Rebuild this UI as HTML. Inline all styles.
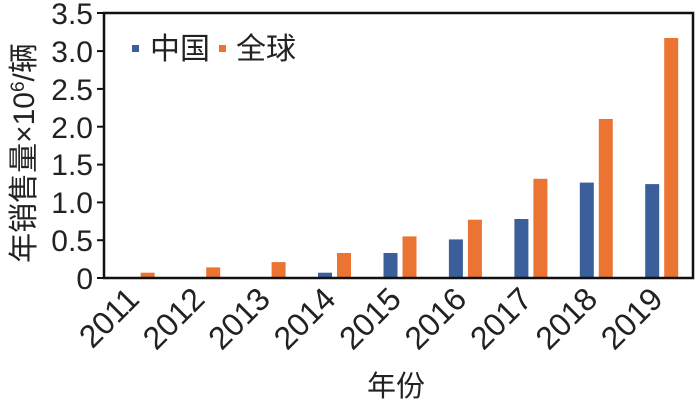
<!DOCTYPE html>
<html><head><meta charset="utf-8"><style>
body{margin:0;background:#fff;}
svg text{font-family:"Liberation Sans","Noto Sans CJK SC",sans-serif;fill:#222;}
</style></head><body>
<svg width="700" height="401" xmlns="http://www.w3.org/2000/svg">
<g fill="#3a5f9a">
<rect x="121.7" y="277.2" width="14" height="0.8"/>
<rect x="187.2" y="277.2" width="14" height="0.8"/>
<rect x="252.6" y="277.2" width="14" height="0.8"/>
<rect x="318" y="272.7" width="14" height="5.3"/>
<rect x="383.5" y="253" width="14" height="25"/>
<rect x="448.9" y="239.4" width="14" height="38.6"/>
<rect x="514.4" y="219" width="14" height="59"/>
<rect x="579.8" y="182.6" width="14" height="95.4"/>
<rect x="645.2" y="184.1" width="14" height="93.9"/>
</g>
<g fill="#ec7432">
<rect x="140.7" y="272.7" width="14" height="5.3"/>
<rect x="206.2" y="267.4" width="14" height="10.6"/>
<rect x="271.6" y="262.1" width="14" height="15.9"/>
<rect x="337" y="253" width="14" height="25"/>
<rect x="402.5" y="236.4" width="14" height="41.6"/>
<rect x="467.9" y="219.7" width="14" height="58.3"/>
<rect x="533.4" y="178.8" width="14" height="99.2"/>
<rect x="598.8" y="119" width="14" height="159"/>
<rect x="664.2" y="38" width="14" height="240"/>
</g>
<rect x="104" y="13" width="589" height="265" fill="none" stroke="#111" stroke-width="2.5"/>
<g stroke="#111" stroke-width="2">
<line x1="97" y1="278" x2="104" y2="278"/><line x1="97" y1="240.2" x2="104" y2="240.2"/>
<line x1="97" y1="202.4" x2="104" y2="202.4"/><line x1="97" y1="164.6" x2="104" y2="164.6"/>
<line x1="97" y1="126.7" x2="104" y2="126.7"/><line x1="97" y1="88.9" x2="104" y2="88.9"/>
<line x1="97" y1="51.1" x2="104" y2="51.1"/><line x1="97" y1="13" x2="104" y2="13"/>
</g>
<g font-size="30" text-anchor="end">
<text x="93" y="289">0</text><text x="93" y="251">0.5</text><text x="93" y="213">1.0</text>
<text x="93" y="175">1.5</text><text x="93" y="138">2.0</text><text x="93" y="100">2.5</text>
<text x="93" y="62">3.0</text><text x="93" y="24">3.5</text>
</g>
<text transform="translate(34,153) rotate(-90)" font-size="30" text-anchor="middle">年销售量×10<tspan font-size="19" dy="-10">6</tspan><tspan dy="10">/辆</tspan></text>
<rect x="132" y="45" width="7" height="7" fill="#3a5f9a"/>
<text x="150" y="59" font-size="30">中国</text>
<rect x="219" y="45" width="7" height="7" fill="#ec7432"/>
<text x="236" y="59" font-size="30">全球</text>
<text x="396" y="396" font-size="29" text-anchor="middle">年份</text>
<g font-size="32" text-anchor="end">
<text transform="translate(141,301) rotate(-45)">2011</text>
<text transform="translate(206.5,301) rotate(-45)">2012</text>
<text transform="translate(272,301) rotate(-45)">2013</text>
<text transform="translate(337.4,301) rotate(-45)">2014</text>
<text transform="translate(402.9,301) rotate(-45)">2015</text>
<text transform="translate(468.3,301) rotate(-45)">2016</text>
<text transform="translate(533.8,301) rotate(-45)">2017</text>
<text transform="translate(599.2,301) rotate(-45)">2018</text>
<text transform="translate(664.6,301) rotate(-45)">2019</text>
</g>
</svg>
</body></html>
